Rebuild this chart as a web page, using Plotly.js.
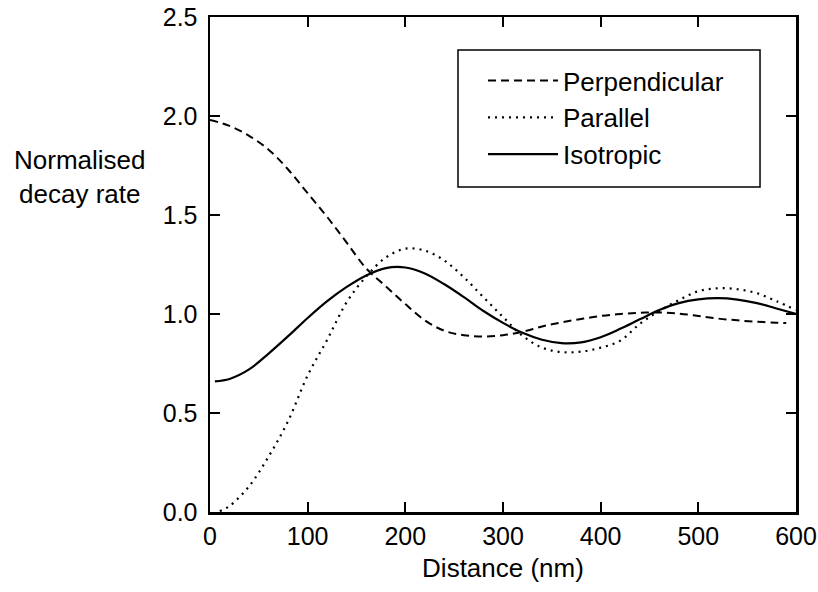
<!DOCTYPE html>
<html>
<head>
<meta charset="utf-8">
<script src="https://cdn.plot.ly/plotly-3.0.1.min.js"></script>
<style>html,body{margin:0;padding:0;background:#fff;}#chart{width:818px;height:592px;}</style>
</head>
<body>
<div id="chart"></div>
<script>
const perpX = [0,20,40,60,80,100,120,140,160,180,200,220,240,260,280,300,320,340,360,380,400,420,440,460,480,500,520,540,560,580,590];
const perpY = [1.98,1.95,1.90,1.83,1.73,1.61,1.49,1.36,1.23,1.14,1.05,0.968,0.915,0.893,0.886,0.893,0.91,0.937,0.958,0.975,0.99,1.0,1.006,1.008,1.002,0.99,0.977,0.968,0.961,0.956,0.954];

const parX = [10,20,40,60,80,100,120,140,160,180,200,220,240,260,280,300,320,340,360,380,400,420,440,460,480,500,520,540,560,580,600];
const parY = [0.005,0.03,0.13,0.28,0.46,0.69,0.87,1.06,1.19,1.285,1.33,1.32,1.27,1.185,1.085,0.985,0.89,0.83,0.808,0.81,0.83,0.865,0.95,1.015,1.07,1.115,1.13,1.125,1.105,1.065,1.02];

const isoX = [5,20,40,60,80,100,120,140,160,180,200,220,240,260,280,300,320,340,360,380,400,420,440,460,480,500,520,540,560,580,600];
const isoY = [0.66,0.672,0.72,0.80,0.888,0.98,1.065,1.137,1.195,1.232,1.235,1.205,1.15,1.085,1.015,0.955,0.905,0.87,0.853,0.857,0.883,0.925,0.973,1.02,1.055,1.074,1.08,1.073,1.055,1.028,1.0];

const names = ['Perpendicular','Parallel','Isotropic'];
const xTicks = [0,100,200,300,400,500,600];
const yTicks = [0,0.5,1.0,1.5,2.0,2.5];

const FONT = 'Liberation Sans, Arial, sans-serif';

const traces = [
  {x: perpX, y: perpY, name: names[0], mode: 'lines', line: {color: '#000', width: 2, dash: '8px,5px', shape: 'spline'}},
  {x: parX, y: parY, name: names[1], mode: 'lines', line: {color: '#000', width: 2.2, dash: '2px,5px', shape: 'spline'}},
  {x: isoX, y: isoY, name: names[2], mode: 'lines', line: {color: '#000', width: 2.2, shape: 'spline'}}
];

const axisCommon = {
  showline: true, linecolor: '#000', linewidth: 2.5, mirror: 'ticks',
  ticks: 'inside', ticklen: 10, tickwidth: 2, tickcolor: '#000',
  showgrid: false, zeroline: false,
  tickfont: {family: FONT, size: 25, color: '#000'}
};

const layout = {
  width: 818, height: 592,
  margin: {l: 210, r: 22, t: 17, b: 80},
  paper_bgcolor: '#fff', plot_bgcolor: '#fff',
  font: {family: FONT, color: '#000'},
  xaxis: Object.assign({}, axisCommon, {
    range: [0, 600], tickvals: xTicks, ticktext: xTicks.map(String),
    title: {text: 'Distance (nm)', font: {family: FONT, size: 26, color: '#000'}, standoff: 11}
  }),
  yaxis: Object.assign({}, axisCommon, {
    range: [0, 2.5], tickvals: yTicks, ticktext: yTicks.map(v => v.toFixed(1)),
    ticklabelstandoff: 5
  }),
  showlegend: true,
  legend: {
    x: 0.4659, y: 0.919, xanchor: 'left', yanchor: 'top',
    bgcolor: 'rgba(0,0,0,0)', borderwidth: 0,
    font: {family: FONT, size: 26, color: '#000'},
    itemwidth: 70, tracegroupgap: 0
  },
  shapes: [{
    type: 'rect', xref: 'paper', yref: 'paper',
    x0: 0.4232, x1: 0.9386, y0: 0.6566, y1: 0.9333,
    line: {color: '#000', width: 1.5}, fillcolor: 'rgba(0,0,0,0)', layer: 'above'
  }],
  annotations: [{
    text: 'Normalised<br>decay rate', xref: 'paper', yref: 'paper',
    x: -0.222, y: 0.677, xanchor: 'center', yanchor: 'middle', showarrow: false,
    align: 'center', font: {family: FONT, size: 26, color: '#000'}
  }]
};

Plotly.newPlot('chart', traces, layout, {displayModeBar: false, staticPlot: true});
</script>
</body>
</html>
